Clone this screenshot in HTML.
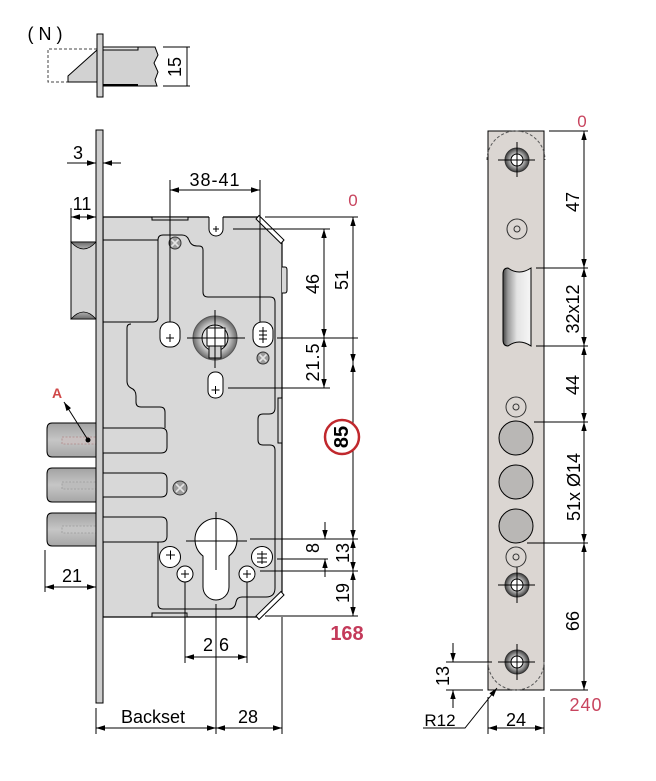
<!DOCTYPE html>
<html><head><meta charset="utf-8"><style>
html,body{margin:0;padding:0;background:#fff;}
svg{display:block;}
text{font-family:"Liberation Sans",Arial,sans-serif;fill:#000;}
</style></head><body>
<svg width="656" height="781" viewBox="0 0 656 781" xmlns="http://www.w3.org/2000/svg">
<defs>
<marker id="ar" viewBox="0 0 10 6" refX="10" refY="3" markerWidth="9" markerHeight="6" markerUnits="userSpaceOnUse" orient="auto-start-reverse"><path d="M0,0L10,3L0,6z" fill="#000" stroke="none"/></marker>
<linearGradient id="tg" x1="0" y1="0" x2="0" y2="1"><stop offset="0" stop-color="#a2a2a2"/><stop offset="0.5" stop-color="#c6c6c6"/><stop offset="1" stop-color="#a6a6a6"/></linearGradient>
<linearGradient id="sc" x1="0" y1="0" x2="0" y2="1"><stop offset="0" stop-color="#6a6a6a"/><stop offset="1" stop-color="#b0b0b0"/></linearGradient>
<linearGradient id="sc2" x1="0" y1="1" x2="0" y2="0"><stop offset="0" stop-color="#6a6a6a"/><stop offset="1" stop-color="#b0b0b0"/></linearGradient>
<radialGradient id="ring"><stop offset="0.55" stop-color="#e2e2e2"/><stop offset="1" stop-color="#6a6a6a"/></radialGradient>
<radialGradient id="scr"><stop offset="0.45" stop-color="#d4d4d4"/><stop offset="1" stop-color="#3e3e3e"/></radialGradient>
<linearGradient id="slot" x1="0" y1="0" x2="1" y2="0"><stop offset="0" stop-color="#444"/><stop offset="0.18" stop-color="#9a9a9a"/><stop offset="0.5" stop-color="#e4e4e4"/><stop offset="1" stop-color="#f6f6f6"/></linearGradient>
</defs>

<!-- ===== (N) detail ===== -->
<text x="45" y="40" font-size="18" text-anchor="middle">( N )</text>
<path d="M97,49 H48 V82 H68" fill="none" stroke="#444" stroke-dasharray="3,2"/>
<polygon points="68,76 97,50 97,82 68,82" fill="#d2d2d2" stroke="#000"/>
<path d="M103,47 H155 L158,55 L154,63 L158,72 L155,80 L157,86 H103 Z" fill="#d2d2d2" stroke="#000"/>
<rect x="103" y="47" width="35" height="3" fill="#e6e6e6" stroke="#000"/>
<line x1="103" y1="85" x2="138" y2="85" stroke="#000" stroke-width="2"/>
<rect x="97" y="34" width="6" height="63" fill="#d2d2d2" stroke="#000"/>
<g stroke="#000" fill="none">
<line x1="163" y1="47" x2="190" y2="47"/><line x1="163" y1="86" x2="190" y2="86"/>
<line x1="187" y1="47" x2="187" y2="86"/>
</g>
<text transform="rotate(-90 175 67)" x="175" y="67" font-size="18" text-anchor="middle" dominant-baseline="central">15</text>

<!-- ===== Main lock ===== -->
<!-- latch bolt -->
<rect x="71" y="242" width="25" height="77" fill="#d6d6d6" stroke="#000"/>
<path d="M71,242 Q83.5,256 96,242 Z" fill="url(#sc)" stroke="#000" stroke-width="0.8"/>
<path d="M71,319 Q83.5,305 96,319 Z" fill="url(#sc2)" stroke="#000" stroke-width="0.8"/>

<!-- deadbolt tongues outer -->
<g stroke="#000" stroke-width="1">
<path d="M96,423 H52 Q47,423 47,429 V451 Q47,457 52,457 H96 Z" fill="url(#tg)"/>
<path d="M96,468 H52 Q47,468 47,474 V496 Q47,502 52,502 H96 Z" fill="url(#tg)"/>
<path d="M96,513 H52 Q47,513 47,519 V540 Q47,546 52,546 H96 Z" fill="url(#tg)"/>
</g>
<rect x="62" y="437" width="35" height="7" fill="#c8c0c0" stroke="#b08888" stroke-width="0.8" stroke-dasharray="2,1.5"/>
<rect x="62" y="482" width="35" height="7" fill="#bcbcbc" stroke="#9a9a9a" stroke-width="0.8" stroke-dasharray="2,1.5"/>
<rect x="62" y="526" width="35" height="7" fill="#c4c4c4" stroke="#9a9a9a" stroke-width="0.8" stroke-dasharray="2,1.5"/>

<!-- body -->
<path d="M103,217 H258 L282,241 V592 L257,617 H103 Z" fill="#d8d8d8" stroke="#000" stroke-width="1.2"/>
<rect x="152" y="217" width="36" height="3" fill="#d8d8d8" stroke="#000"/>
<rect x="152" y="613" width="35" height="4" fill="#d8d8d8" stroke="#000"/>
<path d="M282,267 H285 Q287,267 287,270 V290 Q287,293 285,293 H282" fill="#d8d8d8" stroke="#000"/>
<rect x="278" y="398" width="4" height="45" fill="#d8d8d8" stroke="#000"/>
<!-- chamfer plates -->
<polygon points="256,219 259,215.5 284,240 281,243.5" fill="#fff" stroke="#000"/>
<polygon points="256,616 259,619.5 284,595 281,591.5" fill="#fff" stroke="#000"/>

<!-- inner contours -->
<g fill="none" stroke="#000" stroke-width="1">
<path d="M103,240 H158"/>
<path d="M103,322 H153 Q158,322 158,317 V240 Q158,235 163,235 H182 Q187,235 189,240 Q191,246 197,246 H199 Q203,246 203,250 V292 Q203,297 208,297 H270 Q275,297 275,302 V408 Q275,414 269,414 H263 Q258,414 258,419 V440 Q258,445 263,445 H270 Q275,445 275,450 V588 Q275,597 266,597 H242 Q237,597 236,602 Q235,609 229,609 H163 Q158,609 158,604 V542"/>
<path d="M165,428 V412 Q165,407 160,407 H141 Q136,407 136,402 V396 Q136,390 131,388 Q127,386 127,381 V328 Q127,324 131,324"/>
</g>
<!-- tongues inner -->
<g stroke="#000" fill="#d8d8d8">
<path d="M103,428 H161 Q167,428 167,434 V447 Q167,453 161,453 H103"/>
<path d="M103,473 H161 Q167,473 167,479 V491 Q167,497 161,497 H103"/>
<path d="M103,517 H161 Q167,517 167,523 V536 Q167,542 161,542 H103"/>
</g>

<!-- faceplate -->
<rect x="96" y="130" width="7" height="573" fill="#cdcdcd" stroke="#000"/>

<!-- top notch -->
<path d="M209,216 V229 A7,7 0 0 0 223,229 V216 Z" fill="#fff"/>
<path d="M209,217 V229 A7,7 0 0 0 223,229 V217" fill="none" stroke="#000"/>
<path d="M213,229 H219 M216,226 V232" stroke="#000"/>

<!-- screws -->
<g stroke="#333">
<circle cx="175" cy="243" r="6" fill="#9c9c9c"/>
<path d="M171.5,239.5 L178.5,246.5 M178.5,239.5 L171.5,246.5" stroke="#e4e4e4" stroke-width="1.6"/>
<circle cx="263" cy="358" r="6" fill="#9c9c9c"/>
<path d="M259.5,354.5 L266.5,361.5 M266.5,354.5 L259.5,361.5" stroke="#e4e4e4" stroke-width="1.6"/>
<circle cx="180" cy="488" r="7" fill="#9c9c9c"/>
<path d="M176,484 L184,492 M184,484 L176,492" stroke="#e4e4e4" stroke-width="1.6"/>
</g>

<!-- follower -->
<circle cx="215" cy="338" r="22" fill="url(#ring)" stroke="#555"/>
<circle cx="215" cy="338" r="13" fill="#e6e6e6" stroke="#000"/>
<rect x="207" y="328" width="18" height="18" fill="#fff" stroke="#000"/>
<rect x="209" y="346" width="12" height="12" fill="#cfcfcf" stroke="#000"/>
<g stroke="#000"><line x1="187" y1="338" x2="245" y2="338"/><line x1="215" y1="310" x2="215" y2="368"/></g>

<!-- slots -->
<g fill="#fff" stroke="#000">
<rect x="160" y="322" width="20" height="25" rx="9"/>
<rect x="253" y="322" width="20" height="25" rx="9"/>
<rect x="208" y="372" width="15" height="26" rx="7"/>
</g>
<g stroke="#000">
<path d="M166,338 H174 M170,334 V342"/>
<path d="M263,327 V343 M259,331 H267 M259,335 H267 M259,339 H267"/>
<path d="M211.5,390 H219.5 M215.5,386 V394"/>
</g>

<!-- cylinder -->
<path d="M203,556 A21,21 0 1 1 229,556 V587 A13,13 0 0 1 203,587 Z" fill="#fff" stroke="#000"/>
<g stroke="#000"><line x1="186" y1="541" x2="247" y2="541"/><line x1="216" y1="512" x2="216" y2="570"/></g>
<g fill="#fff" stroke="#000">
<circle cx="170" cy="557" r="10.5"/><circle cx="185" cy="574" r="8"/>
<circle cx="262" cy="557" r="10.5"/><circle cx="247" cy="574" r="8"/>
</g>
<g stroke="#000">
<path d="M166,555 H175 M170.5,550.5 V559.5"/>
<path d="M181,574 H189 M185,570 V578"/>
<path d="M243,574 H251 M247,570 V578"/>
<path d="M262,551 V564 M257,554 H267 M257,558 H267 M257,562 H267"/>
</g>

<!-- main dimensions -->
<g stroke="#000" stroke-width="1" fill="none">
<!-- 3 -->
<line x1="67" y1="163" x2="96" y2="163" marker-end="url(#ar)"/>
<line x1="121" y1="163" x2="103" y2="163" marker-end="url(#ar)"/>
<!-- 11 -->
<line x1="71" y1="208" x2="71" y2="242"/>
<line x1="71" y1="217" x2="96" y2="217" marker-start="url(#ar)" marker-end="url(#ar)"/>
<!-- 38-41 -->
<line x1="170" y1="180" x2="170" y2="322"/>
<line x1="260" y1="180" x2="260" y2="322"/>
<line x1="170" y1="190" x2="260" y2="190" marker-start="url(#ar)" marker-end="url(#ar)"/>
<!-- ext lines right -->
<line x1="265" y1="217" x2="358" y2="217"/>
<line x1="233" y1="229" x2="330" y2="229"/>
<line x1="277" y1="338" x2="358" y2="338"/>
<line x1="228" y1="388" x2="330" y2="388"/>
<line x1="250" y1="539" x2="358" y2="539"/>
<line x1="277" y1="559" x2="328" y2="559"/>
<line x1="260" y1="571" x2="358" y2="571"/>
<line x1="265" y1="616" x2="358" y2="616"/>
<!-- dims -->
<line x1="324" y1="229" x2="324" y2="338" marker-start="url(#ar)" marker-end="url(#ar)"/>
<line x1="324" y1="338" x2="324" y2="388" marker-start="url(#ar)" marker-end="url(#ar)"/>
<line x1="353" y1="217" x2="353" y2="363" marker-start="url(#ar)" marker-end="url(#ar)"/>
<line x1="353" y1="363" x2="353" y2="539" marker-start="url(#ar)" marker-end="url(#ar)"/>
<line x1="353" y1="539" x2="353" y2="571" marker-start="url(#ar)" marker-end="url(#ar)"/>
<line x1="353" y1="571" x2="353" y2="616" marker-start="url(#ar)" marker-end="url(#ar)"/>
<line x1="325" y1="522" x2="325" y2="539" marker-end="url(#ar)"/>
<line x1="325" y1="577" x2="325" y2="559" marker-end="url(#ar)"/>
<!-- 21 -->
<line x1="45" y1="550" x2="45" y2="592"/>
<line x1="45" y1="587" x2="96" y2="587" marker-start="url(#ar)" marker-end="url(#ar)"/>
<!-- 26 -->
<line x1="185" y1="582" x2="185" y2="663"/>
<line x1="247" y1="582" x2="247" y2="663"/>
<line x1="185" y1="657" x2="247" y2="657" marker-start="url(#ar)" marker-end="url(#ar)"/>
<!-- backset / 28 -->
<line x1="216" y1="604" x2="216" y2="734"/>
<line x1="96" y1="708" x2="96" y2="734"/>
<line x1="282" y1="617" x2="282" y2="734"/>
<line x1="96" y1="728" x2="216" y2="728" marker-start="url(#ar)" marker-end="url(#ar)"/>
<line x1="216" y1="728" x2="282" y2="728" marker-start="url(#ar)" marker-end="url(#ar)"/>
<!-- A arrow -->
<line x1="88" y1="440" x2="64" y2="402" marker-end="url(#ar)"/>
</g>
<circle cx="88" cy="440" r="2.5" fill="#000"/>

<!-- main texts -->
<text x="78" y="159" font-size="18" text-anchor="middle">3</text>
<text x="82" y="210" font-size="18" text-anchor="middle">11</text>
<text x="215" y="186" font-size="18" text-anchor="middle" letter-spacing="1">38-41</text>
<text x="353" y="206" font-size="17" text-anchor="middle" style="fill:#c8445e">0</text>
<text transform="rotate(-90 313 284)" x="313" y="284" font-size="18" text-anchor="middle" dominant-baseline="central">46</text>
<text transform="rotate(-90 342 280)" x="342" y="280" font-size="18" text-anchor="middle" dominant-baseline="central">51</text>
<text transform="rotate(-90 313 362)" x="313" y="362" font-size="18" text-anchor="middle" dominant-baseline="central" letter-spacing="1">21.5</text>
<circle cx="342" cy="437" r="17" fill="#fff" stroke="#c0282d" stroke-width="2.5"/>
<text transform="rotate(-90 342 437)" x="342" y="437" font-size="20" font-weight="bold" text-anchor="middle" dominant-baseline="central">85</text>
<text transform="rotate(-90 313 548)" x="313" y="548" font-size="18" text-anchor="middle" dominant-baseline="central">8</text>
<text transform="rotate(-90 343 553)" x="343" y="553" font-size="18" text-anchor="middle" dominant-baseline="central">13</text>
<text transform="rotate(-90 343 593)" x="343" y="593" font-size="18" text-anchor="middle" dominant-baseline="central">19</text>
<text x="347" y="640" font-size="20" font-weight="bold" text-anchor="middle" style="fill:#c43a5a">168</text>
<text x="57" y="398" font-size="14" font-weight="bold" text-anchor="middle" style="fill:#d04848">A</text>
<text x="72" y="582" font-size="18" text-anchor="middle">21</text>
<text x="213" y="651" font-size="18" text-anchor="end">2</text>
<text x="219" y="651" font-size="18" text-anchor="start">6</text>
<text x="153" y="723" font-size="18" text-anchor="middle">Backset</text>
<text x="248" y="723" font-size="18" text-anchor="middle">28</text>

<!-- ===== Right faceplate ===== -->
<rect x="488" y="131" width="56" height="559" fill="#dbd6d2" stroke="#000"/>
<path d="M487,160 A29,29 0 0 1 545,160" fill="none" stroke="#555" stroke-dasharray="3,2"/>
<path d="M488,662 A28,28 0 0 0 544,662" fill="none" stroke="#555" stroke-dasharray="3,2"/>
<!-- screws -->
<g stroke="#000">
<circle cx="517" cy="160" r="12" fill="url(#scr)" stroke="#333"/>
<circle cx="517" cy="160" r="6" fill="#fff"/>
<line x1="498" y1="160" x2="535" y2="160"/><line x1="517" y1="142" x2="517" y2="177"/>
<circle cx="517" cy="585" r="12" fill="url(#scr)" stroke="#333"/>
<circle cx="517" cy="585" r="6" fill="#fff"/>
<line x1="498" y1="585" x2="535" y2="585"/><line x1="517" y1="567" x2="517" y2="603"/>
<circle cx="517" cy="662" r="12" fill="url(#scr)" stroke="#333"/>
<circle cx="517" cy="662" r="6" fill="#fff"/>
<line x1="498" y1="662" x2="535" y2="662"/><line x1="517" y1="644" x2="517" y2="680"/>
</g>
<!-- rings -->
<g fill="none" stroke="#333">
<circle cx="517" cy="229" r="10"/><circle cx="517" cy="229" r="3"/>
<circle cx="516" cy="407" r="10"/><circle cx="516" cy="407" r="3"/>
<circle cx="516" cy="557" r="10"/><circle cx="516" cy="557" r="3"/>
</g>
<!-- bolt holes -->
<g fill="#b9b7b5" stroke="#000">
<circle cx="516" cy="438" r="17"/><circle cx="516" cy="482" r="17"/><circle cx="516" cy="526" r="17"/>
</g>
<!-- latch slot -->
<path d="M503,274 Q503,268 508,268 Q519,276 531,268 V346 Q519,338 508,346 Q503,346 503,340 Z" fill="url(#slot)" stroke="#000"/>

<!-- right dims -->
<g stroke="#000" stroke-width="1" fill="none">
<line x1="549" y1="131" x2="588" y2="131"/>
<line x1="536" y1="268" x2="588" y2="268"/>
<line x1="536" y1="346" x2="588" y2="346"/>
<line x1="534" y1="422" x2="588" y2="422"/>
<line x1="527" y1="543" x2="588" y2="543"/>
<line x1="550" y1="690" x2="588" y2="690"/>
<line x1="584" y1="131" x2="584" y2="268" marker-start="url(#ar)" marker-end="url(#ar)"/>
<line x1="584" y1="268" x2="584" y2="346" marker-start="url(#ar)" marker-end="url(#ar)"/>
<line x1="584" y1="346" x2="584" y2="422" marker-start="url(#ar)" marker-end="url(#ar)"/>
<line x1="584" y1="422" x2="584" y2="543" marker-start="url(#ar)" marker-end="url(#ar)"/>
<line x1="584" y1="543" x2="584" y2="690" marker-start="url(#ar)" marker-end="url(#ar)"/>
<!-- 13 -->
<line x1="446" y1="662" x2="492" y2="662"/>
<line x1="446" y1="690" x2="483" y2="690"/>
<line x1="453" y1="643" x2="453" y2="662" marker-end="url(#ar)"/>
<line x1="453" y1="708" x2="453" y2="690" marker-end="url(#ar)"/>
<!-- 24 -->
<line x1="488" y1="697" x2="488" y2="734"/>
<line x1="544" y1="697" x2="544" y2="734"/>
<line x1="488" y1="728" x2="544" y2="728" marker-start="url(#ar)" marker-end="url(#ar)"/>
<!-- R12 -->
<path d="M423,728 H465 L497,688" marker-end="url(#ar)"/>
</g>
<text x="582" y="127" font-size="17" text-anchor="middle" style="fill:#c8445e">0</text>
<text transform="rotate(-90 573 202)" x="573" y="202" font-size="18" text-anchor="middle" dominant-baseline="central">47</text>
<text transform="rotate(-90 573 309)" x="573" y="309" font-size="18" text-anchor="middle" dominant-baseline="central">32x12</text>
<text transform="rotate(-90 573 385)" x="573" y="385" font-size="18" text-anchor="middle" dominant-baseline="central">44</text>
<text transform="rotate(-90 574 487)" x="574" y="487" font-size="18" text-anchor="middle" dominant-baseline="central">51x Ø14</text>
<text transform="rotate(-90 573 621)" x="573" y="621" font-size="18" text-anchor="middle" dominant-baseline="central">66</text>
<text transform="rotate(-90 443 676)" x="443" y="676" font-size="18" text-anchor="middle" dominant-baseline="central">13</text>
<text x="586" y="711" font-size="18" text-anchor="middle" letter-spacing="1" style="fill:#c8445e">240</text>
<text x="440" y="726" font-size="17" text-anchor="middle">R12</text>
<text x="516" y="726" font-size="18" text-anchor="middle">24</text>
</svg>
</body></html>
